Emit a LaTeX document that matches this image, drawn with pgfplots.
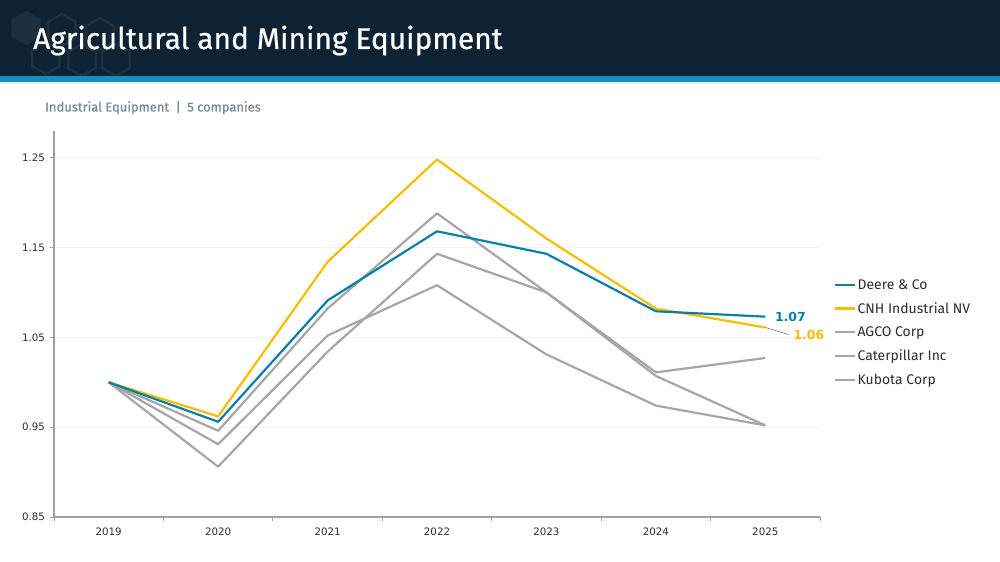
\documentclass[border=0pt]{standalone}
\usepackage{pgfplots}
\pgfplotsset{compat=1.18}
\usepackage{fontspec}
\setmainfont{Fira Sans}
\newfontfamily\dejavu{DejaVu Sans}
\newfontfamily\titlefont[FakeBold=0.6]{Fira Sans}
\newfontfamily\subfont[FakeBold=0.7]{Fira Sans}
\definecolor{navy}{RGB}{13,35,52}
\definecolor{hexc}{RGB}{30,48,64}
\definecolor{stripe}{RGB}{22,140,192}
\definecolor{lightstripe}{RGB}{225,240,247}
\definecolor{subgray}{RGB}{125,135,143}
\definecolor{deere}{RGB}{12,126,168}
\definecolor{cnh}{RGB}{247,190,0}
\definecolor{peer}{RGB}{166,166,166}
\definecolor{axgray}{RGB}{160,160,160}
\definecolor{gridc}{RGB}{242,242,242}
\definecolor{txt}{RGB}{45,45,45}

\pgfplotstableread{
x y
0 1.000
1 0.956
2 1.091
3 1.168
4 1.143
5 1.079
6 1.073
}\deere
\pgfplotstableread{
x y
0 1.000
1 0.962
2 1.134
3 1.248
4 1.160
5 1.082
6 1.061
}\cnh
\pgfplotstableread{
x y
0 1.000
1 0.946
2 1.082
3 1.188
4 1.100
5 1.007
6 0.952
}\agco
\pgfplotstableread{
x y
0 1.000
1 0.931
2 1.052
3 1.108
4 1.031
5 0.974
6 0.952
}\cat
\pgfplotstableread{
x y
0 1.000
1 0.906
2 1.034
3 1.143
4 1.100
5 1.011
6 1.027
}\kubota

\newcommand{\hexagon}[3]{% center x, center y, radius
  (#1+0,#2+#3) -- (#1+0.866*#3,#2+0.5*#3) -- (#1+0.866*#3,#2-0.5*#3) -- (#1+0,#2-#3) -- (#1-0.866*#3,#2-0.5*#3) -- (#1-0.866*#3,#2+0.5*#3) -- cycle}

\begin{document}
\begin{tikzpicture}[x=1bp,y=1bp]
\useasboundingbox (0,0) rectangle (1000,-562);
\fill[white] (0,0) rectangle (1000,-562);
\fill[navy] (0,0) rectangle (1000,-76);
% decorative hexagons
\fill[hexc] \hexagon{26}{-28}{17};
\draw[hexc, line width=2.5bp] \hexagon{62}{-30}{16};
\draw[hexc, line width=2.5bp] \hexagon{100}{-34}{16};
\draw[hexc, line width=2.5bp] \hexagon{46}{-58}{16};
\draw[hexc, line width=2.5bp] \hexagon{82}{-60}{16};
\draw[hexc, line width=2.5bp] \hexagon{116}{-60}{16};
\fill[stripe] (0,-76) rectangle (1000,-82);
\fill[lightstripe] (0,-82) rectangle (1000,-84);
\node[anchor=base west, text=white, font=\titlefont\fontsize{30}{34}\selectfont, inner sep=0pt] at (33,-49) {Agricultural and Mining Equipment};
\node[anchor=base west, text=subgray, font=\subfont\fontsize{13}{16}\selectfont, inner sep=0pt] at (45,-111.5) {Industrial Equipment\enspace|\enspace 5 companies};

\begin{axis}[
  at={(54bp,-517bp)}, anchor=south west,
  scale only axis, width=766bp, height=386.3bp,
  xmin=-0.5, xmax=6.5, ymin=0.85, ymax=1.28,
  clip=false,
  axis x line*=bottom, axis y line*=left,
  axis line style={draw=axgray, line width=1.2bp},
  xtick={0,...,6},
  xticklabels={2019,2020,2021,2022,2023,2024,2025},
  major x tick style={draw=none},
  minor xtick={-0.5,0.5,...,6.5},
  minor x tick style={draw=axgray, line width=1bp},
  minor tick length=4bp,
  ytick={0.85,0.95,1.05,1.15,1.25},
  major tick length=4bp,
  tick align=outside,
  major y tick style={draw=axgray, line width=1bp},
  ymajorgrids,
  major grid style={draw=gridc, line width=0.8bp},
  yticklabel style={xshift=-1.5bp, /pgf/number format/.cd, fixed, fixed zerofill, precision=2},
  /pgf/number format/assume math mode=true,
  tick label style={font=\dejavu\fontsize{10.3}{12}\selectfont, text=txt},
  xticklabel style={yshift=-3.5bp},
  legend cell align=left,
  legend image code/.code={\draw[#1, line width=2.4bp] (0bp,0bp) -- (20bp,0bp);},
  legend style={at={(1.018,0.619)}, anchor=north west, draw=none, fill=none,
    font=\fontsize{14}{16}\selectfont, text=txt, inner sep=0pt,
    row sep=9.4bp, nodes={inner sep=1.2bp}},
]
\addlegendimage{draw=deere}
\addlegendentry{Deere \& Co}
\addlegendimage{draw=cnh}
\addlegendentry{CNH Industrial NV}
\addlegendimage{draw=peer}
\addlegendentry{AGCO Corp}
\addlegendimage{draw=peer}
\addlegendentry{Caterpillar Inc}
\addlegendimage{draw=peer}
\addlegendentry{Kubota Corp}

\addplot[forget plot, peer, line width=2.2bp, no marks, line join=round] table[x=x,y=y] {\agco};
\addplot[forget plot, peer, line width=2.2bp, no marks, line join=round] table[x=x,y=y] {\cat};
\addplot[forget plot, peer, line width=2.2bp, no marks, line join=round] table[x=x,y=y] {\kubota};
\addplot[forget plot, cnh, line width=2.2bp, no marks, line join=round] table[x=x,y=y] {\cnh};
\addplot[forget plot, deere, line width=2.2bp, no marks, line join=round] table[x=x,y=y] {\deere};

\node[anchor=west, text=deere, font=\dejavu\bfseries\fontsize{12.5}{14}\selectfont, inner sep=0pt, xshift=9.5bp] at (axis cs:6,1.073) {1.07};
\draw[peer!70!black, line width=0.6bp] (axis cs:6,1.061) -- ++(23bp,-7bp);
\node[anchor=west, text=cnh, font=\dejavu\bfseries\fontsize{12.5}{14}\selectfont, inner sep=0pt, xshift=28bp, yshift=-7.5bp] at (axis cs:6,1.061) {1.06};
\end{axis}
\end{tikzpicture}
\end{document}
